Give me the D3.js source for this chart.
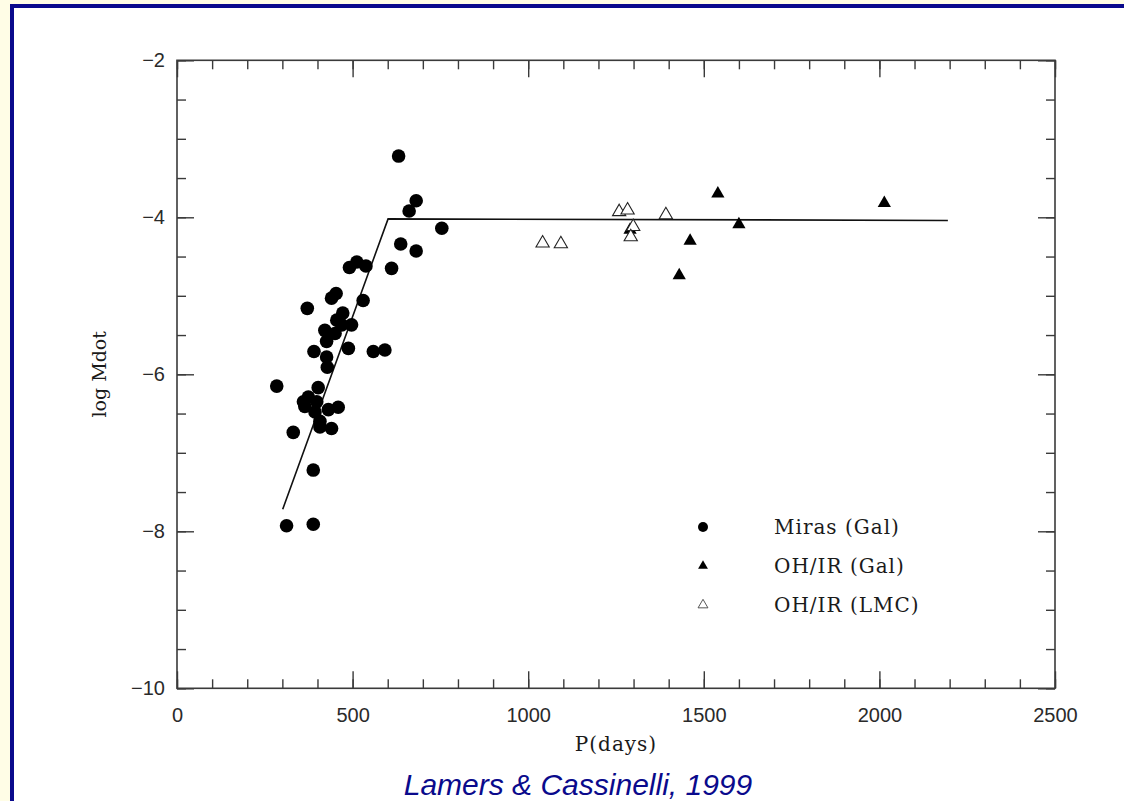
<!DOCTYPE html>
<html>
<head>
<meta charset="utf-8">
<script src="https://cdn.jsdelivr.net/npm/d3@7"></script>
<style>
  html, body { margin: 0; padding: 0; background: #fffde6; }
  svg { display: block; }
</style>
</head>
<body>
<svg id="chart" width="1124" height="801"></svg>
<script>
// ---- Data ----
const mirasP = [631, 681, 661, 754, 637, 681, 611, 491, 512, 538, 530, 453, 440, 371, 472, 455, 497, 469, 421, 450, 426, 488, 559, 592, 390, 426, 428, 284, 402, 360, 374, 364, 398, 393, 431, 459, 407, 440, 407, 331, 388, 312, 388];
const mirasMdot = [-3.22, -3.79, -3.92, -4.14, -4.34, -4.43, -4.65, -4.64, -4.57, -4.62, -5.06, -4.97, -5.03, -5.16, -5.22, -5.31, -5.37, -5.37, -5.44, -5.48, -5.58, -5.67, -5.71, -5.69, -5.71, -5.78, -5.91, -6.15, -6.17, -6.35, -6.29, -6.41, -6.35, -6.48, -6.45, -6.42, -6.60, -6.69, -6.67, -6.74, -7.22, -7.93, -7.91];

const ohirGalP = [1290, 1540, 1600, 1461, 1430, 2014];
const ohirGalMdot = [-4.16, -3.70, -4.09, -4.30, -4.74, -3.82];

const ohirLmcP = [1041, 1093, 1259, 1283, 1299, 1292, 1392];
const ohirLmcMdot = [-4.33, -4.34, -3.93, -3.91, -4.12, -4.25, -3.97];

const fitP = [301, 601, 2195];
const fitMdot = [-7.72, -4.02, -4.04];

const xMajorTicks = [0, 500, 1000, 1500, 2000, 2500];
const xMinorTicks = d3.range(0, 2501, 100);
const yMajorTicks = [-10, -8, -6, -4, -2];
const yMinorTicks = d3.range(-10, -1.99, 0.5);

const legendLabels = ["Miras (Gal)", "OH/IR (Gal)", "OH/IR (LMC)"];
const xTitle = "P(days)";
const yTitle = "log Mdot";
const caption = "Lamers & Cassinelli, 1999";

// ---- Layout ----
const svg = d3.select("#chart");
const W = 1124, H = 801;
const L = 177, R = 1055, T = 60.3, B = 688.3;

// slide frame
svg.append("rect").attr("x", 0).attr("y", 0).attr("width", W).attr("height", H).attr("fill", "#fffde6");
svg.append("rect").attr("x", 10).attr("y", 4).attr("width", W - 10).attr("height", H - 4).attr("fill", "#0a0a8c");
svg.append("rect").attr("x", 14).attr("y", 8).attr("width", W - 14).attr("height", H - 8).attr("fill", "#ffffff");

const x = d3.scaleLinear().domain([0, 2500]).range([L, R]);
const y = d3.scaleLinear().domain([-10, -2]).range([B, T]);

const axisColor = "#3a3a3a";
function styleAxis(g) {
  g.select(".domain").remove();
  g.selectAll(".tick line").attr("stroke", axisColor).attr("stroke-width", 1.4);
  g.selectAll(".tick text").attr("fill", "#2a2a2a").style("font-family", "'Liberation Sans', Arial, sans-serif").style("font-size", "20px");
}

// minor ticks
svg.append("g").attr("transform", `translate(0,${B})`)
  .call(d3.axisBottom(x).tickValues(xMinorTicks).tickSize(-9).tickFormat(""))
  .call(styleAxis);
svg.append("g").attr("transform", `translate(0,${T})`)
  .call(d3.axisTop(x).tickValues(xMinorTicks).tickSize(-9).tickFormat(""))
  .call(styleAxis);
svg.append("g").attr("transform", `translate(${L},0)`)
  .call(d3.axisLeft(y).tickValues(yMinorTicks).tickSize(-9).tickFormat(""))
  .call(styleAxis);
svg.append("g").attr("transform", `translate(${R},0)`)
  .call(d3.axisRight(y).tickValues(yMinorTicks).tickSize(-9).tickFormat(""))
  .call(styleAxis);

// major ticks with labels
svg.append("g").attr("transform", `translate(0,${B})`)
  .call(d3.axisBottom(x).tickValues(xMajorTicks).tickSize(-17).tickPadding(20).tickFormat(d3.format("d")))
  .call(styleAxis);
svg.append("g").attr("transform", `translate(0,${T})`)
  .call(d3.axisTop(x).tickValues(xMajorTicks).tickSize(-17).tickFormat(""))
  .call(styleAxis);
svg.append("g").attr("transform", `translate(${L},0)`)
  .call(d3.axisLeft(y).tickValues(yMajorTicks).tickSize(-17).tickPadding(12).tickFormat(d3.format("d")))
  .call(styleAxis);
svg.append("g").attr("transform", `translate(${R},0)`)
  .call(d3.axisRight(y).tickValues(yMajorTicks).tickSize(-17).tickFormat(""))
  .call(styleAxis);

// frame
svg.append("rect").attr("x", L).attr("y", T).attr("width", R - L).attr("height", B - T)
  .attr("fill", "none").attr("stroke", axisColor).attr("stroke-width", 1.6);

// fit line
const fitData = fitP.map((p, i) => [p, fitMdot[i]]);
svg.append("path")
  .datum(fitData)
  .attr("d", d3.line().x(d => x(d[0])).y(d => y(d[1])))
  .attr("fill", "none").attr("stroke", "#111").attr("stroke-width", 1.6);

// Miras
svg.append("g").selectAll("circle")
  .data(mirasP.map((p, i) => [p, mirasMdot[i]]))
  .join("circle")
  .attr("cx", d => x(d[0])).attr("cy", d => y(d[1])).attr("r", 6.8)
  .attr("fill", "#000");

const triBig = d3.symbol().type(d3.symbolTriangle).size(76);
// OH/IR Gal (filled)
svg.append("g").selectAll("path")
  .data(ohirGalP.map((p, i) => [p, ohirGalMdot[i]]))
  .join("path")
  .attr("d", triBig)
  .attr("transform", d => `translate(${x(d[0])},${y(d[1])})`)
  .attr("fill", "#000");

// OH/IR LMC (open)
svg.append("g").selectAll("path")
  .data(ohirLmcP.map((p, i) => [p, ohirLmcMdot[i]]))
  .join("path")
  .attr("d", triBig)
  .attr("transform", d => `translate(${x(d[0])},${y(d[1])})`)
  .attr("fill", "#fff").attr("stroke", "#222").attr("stroke-width", 1.1);

// legend
const legX = 703, legTextX = 774;
const legY = [527, 566, 605];
const lg = svg.append("g");
lg.append("circle").attr("cx", legX).attr("cy", legY[0]).attr("r", 5).attr("fill", "#000");
const triSmall = d3.symbol().type(d3.symbolTriangle).size(42);
lg.append("path").attr("d", triSmall).attr("transform", `translate(${legX},${legY[1]})`).attr("fill", "#000");
lg.append("path").attr("d", triSmall).attr("transform", `translate(${legX},${legY[2]})`)
  .attr("fill", "#fff").attr("stroke", "#444").attr("stroke-width", 0.9);
lg.selectAll("text").data(legendLabels).join("text")
  .attr("x", legTextX).attr("y", (d, i) => legY[i])
  .attr("dy", "0.36em")
  .style("font-family", "'DejaVu Serif', serif").style("font-size", "20px").style("letter-spacing", "1px")
  .attr("fill", "#1a1a1a")
  .text(d => d);

// axis titles
svg.append("text")
  .attr("x", (L + R) / 2).attr("y", 751)
  .attr("text-anchor", "middle")
  .style("font-family", "'DejaVu Serif', serif").style("font-size", "20px").style("letter-spacing", "1px")
  .attr("fill", "#1a1a1a")
  .text(xTitle);
svg.append("text")
  .attr("transform", `translate(106,${(T + B) / 2}) rotate(-90)`)
  .attr("text-anchor", "middle")
  .style("font-family", "'DejaVu Serif', serif").style("font-size", "19px")
  .attr("fill", "#1a1a1a")
  .text(yTitle);

// caption
svg.append("text")
  .attr("x", 578).attr("y", 795)
  .attr("text-anchor", "middle")
  .style("font-family", "'Liberation Sans', Arial, sans-serif").style("font-size", "30px").style("font-style", "italic")
  .attr("fill", "#0a0a8c")
  .text(caption);
</script>
</body>
</html>
